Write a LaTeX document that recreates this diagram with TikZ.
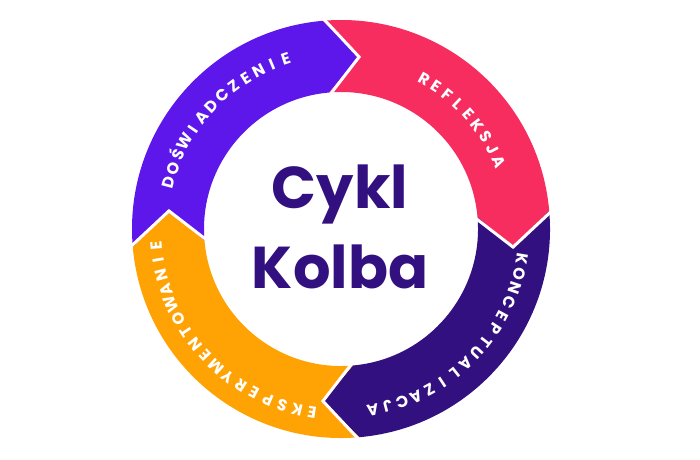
\documentclass[tikz,border=0pt]{standalone}
\usepackage{fontspec}
\setmainfont{Poppins}
\definecolor{cpurple}{HTML}{5E17EB}
\definecolor{cpink}{HTML}{F72D60}
\definecolor{cdark}{HTML}{33107F}
\definecolor{corange}{HTML}{FFA304}
\newcommand{\lblfont}{\bfseries\fontsize{16pt}{16pt}\selectfont}
\newlength\lblw
\newcommand\arclabel[4]{% #1 start angle, #2 end angle, #3 baseline radius (pt), #4 letters
  \gdef\arcTW{0}\gdef\arcN{0}%
  \foreach \ch in {#4}{%
    \settowidth\lblw{\lblfont\ch}%
    \pgfmathsetmacro\mytmp{\arcTW+\lblw}\xdef\arcTW{\mytmp}%
    \pgfmathsetmacro\mytmp{\arcN+1}\xdef\arcN{\mytmp}%
  }%
  \pgfmathsetmacro\arcL{(#1-(#2))*pi/180*#3}%
  \pgfmathsetmacro\mytmp{(\arcL-\arcTW)/(\arcN-1)}\xdef\arcS{\mytmp}%
  \gdef\arcPos{0}%
  \foreach \ch in {#4}{%
    \settowidth\lblw{\lblfont\ch}%
    \pgfmathsetmacro\myang{#1-(\arcPos+\lblw/2)/#3*180/pi}%
    \node[lbl, rotate=\myang-90] at (\myang:#3pt) {\ch};
    \pgfmathsetmacro\mytmp{\arcPos+\lblw+\arcS}\xdef\arcPos{\mytmp}%
  }%
}
\tikzset{
  lbl/.style={text=white, font=\lblfont, anchor=base, inner sep=0pt},
  gapline/.style={white, line width=3pt, line join=miter},
  titletext/.style={text=cdark, font=\bfseries\fontsize{59pt}{59pt}\selectfont, anchor=base, inner sep=0pt}
}
\begin{document}
\begin{tikzpicture}
\useasboundingbox (0,0) rectangle (700pt,459pt);
\begin{scope}[shift={(341pt,230pt)}]
  \foreach \a/\b/\c in {185/95/cpurple, 95/5/cpink, 5/-85/cdark, -85/-175/corange}{
    \fill[\c] (\a:209pt) arc[start angle=\a, end angle=\b, radius=209pt]
      -- (\b-11:173pt) -- (\b:137pt) arc[start angle=\b, end angle=\a, radius=137pt]
      -- (\a-11:173pt) -- cycle;
  }
  \foreach \b in {95, 5, -85, -175}{
    \draw[gapline] (\b:212pt) -- (\b-11:173pt) -- (\b:134pt);
  }
  \arclabel{165}{108}{173}{D,O,Ś,W,I,A,D,C,Z,E,N,I,E}
  \arclabel{61}{23}{166}{R,E,F,L,E,K,S,J,A}
  \arclabel{-9.5}{-80}{178}{K,O,N,C,E,P,T,U,A,L,I,Z,A,C,J,A}
  \arclabel{-99}{-175}{180}{E,K,S,P,E,R,Y,M,E,N,T,O,W,A,N,I,E}
\end{scope}
\node[titletext] (cykl) at (340pt,251pt) {Cykl};
\node[titletext] (kolba) at (340pt,171pt) {Kolba};
\end{tikzpicture}
\end{document}
